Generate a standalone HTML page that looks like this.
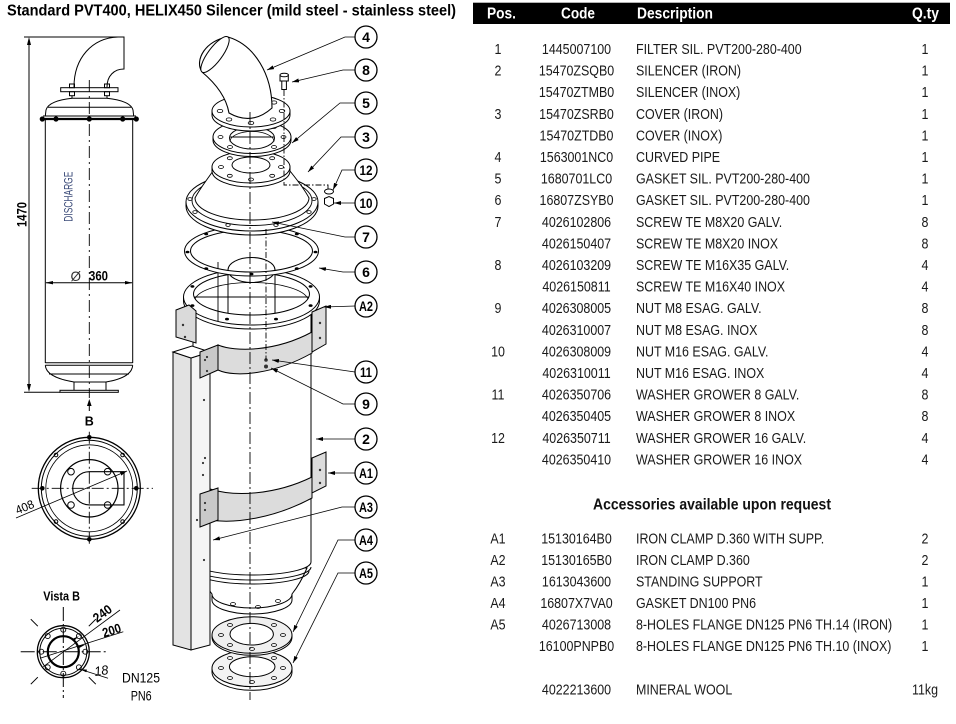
<!DOCTYPE html>
<html><head><meta charset="utf-8"><style>
html,body{margin:0;padding:0;background:#fff;}
svg{display:block;font-family:"Liberation Sans",Arial,sans-serif;}
</style></head><body>
<svg width="956" height="724" viewBox="0 0 956 724" xmlns="http://www.w3.org/2000/svg">
<defs>
<marker id="ar" markerUnits="userSpaceOnUse" markerWidth="7" markerHeight="4" refX="7" refY="2" orient="auto"><path d="M0,0 L7,2 L0,4 z" fill="#000"/></marker>
</defs>
<rect width="956" height="724" fill="#fff"/>

<!-- Title -->
<text x="7" y="15.7" font-size="16" font-weight="bold" textLength="449" lengthAdjust="spacingAndGlyphs">Standard PVT400, HELIX450 Silencer (mild steel - stainless steel)</text>

<!-- Table header -->
<rect x="473" y="2.7" width="477" height="21.3" fill="#000"/>
<g fill="#fff" font-size="16" font-weight="bold">
<text x="487" y="18.5" textLength="29" lengthAdjust="spacingAndGlyphs">Pos.</text>
<text x="561" y="18.5" textLength="34" lengthAdjust="spacingAndGlyphs">Code</text>
<text x="637" y="18.5" textLength="76" lengthAdjust="spacingAndGlyphs">Description</text>
<text x="912" y="18.5" textLength="27" lengthAdjust="spacingAndGlyphs">Q.ty</text>
</g>

<!-- Table body -->
<g fill="#1a1a1a" font-size="15">
<g transform="translate(498,0) scale(0.83,1)" text-anchor="middle">
<text x="0" y="54">1</text><text x="0" y="75.6">2</text><text x="0" y="118.8">3</text><text x="0" y="162">4</text>
<text x="0" y="183.6">5</text><text x="0" y="205.2">6</text><text x="0" y="226.8">7</text><text x="0" y="270">8</text>
<text x="0" y="313.2">9</text><text x="0" y="356.4">10</text><text x="0" y="399.6">11</text><text x="0" y="442.8">12</text>
<text x="0" y="543.3">A1</text><text x="0" y="565">A2</text><text x="0" y="586.5">A3</text><text x="0" y="608">A4</text><text x="0" y="629.6">A5</text>
</g>
<g transform="translate(576.5,0) scale(0.83,1)" text-anchor="middle">
<text x="0" y="54">1445007100</text><text x="0" y="75.6">15470ZSQB0</text><text x="0" y="97.2">15470ZTMB0</text>
<text x="0" y="118.8">15470ZSRB0</text><text x="0" y="140.4">15470ZTDB0</text><text x="0" y="162">1563001NC0</text>
<text x="0" y="183.6">1680701LC0</text><text x="0" y="205.2">16807ZSYB0</text><text x="0" y="226.8">4026102806</text>
<text x="0" y="248.4">4026150407</text><text x="0" y="270">4026103209</text><text x="0" y="291.6">4026150811</text>
<text x="0" y="313.2">4026308005</text><text x="0" y="334.8">4026310007</text><text x="0" y="356.4">4026308009</text>
<text x="0" y="378">4026310011</text><text x="0" y="399.6">4026350706</text><text x="0" y="421.2">4026350405</text>
<text x="0" y="442.8">4026350711</text><text x="0" y="464.4">4026350410</text>
<text x="0" y="543.3">15130164B0</text><text x="0" y="565">15130165B0</text><text x="0" y="586.5">1613043600</text>
<text x="0" y="608">16807X7VA0</text><text x="0" y="629.6">4026713008</text><text x="0" y="651.2">16100PNPB0</text>
<text x="0" y="694.4">4022213600</text>
</g>
<g transform="translate(636,0) scale(0.83,1)">
<text x="0" y="54">FILTER SIL. PVT200-280-400</text><text x="0" y="75.6">SILENCER (IRON)</text><text x="0" y="97.2">SILENCER (INOX)</text>
<text x="0" y="118.8">COVER (IRON)</text><text x="0" y="140.4">COVER (INOX)</text><text x="0" y="162">CURVED PIPE</text>
<text x="0" y="183.6">GASKET SIL. PVT200-280-400</text><text x="0" y="205.2">GASKET SIL. PVT200-280-400</text><text x="0" y="226.8">SCREW TE M8X20 GALV.</text>
<text x="0" y="248.4">SCREW TE M8X20 INOX</text><text x="0" y="270">SCREW TE M16X35 GALV.</text><text x="0" y="291.6">SCREW TE M16X40 INOX</text>
<text x="0" y="313.2">NUT M8 ESAG. GALV.</text><text x="0" y="334.8">NUT M8 ESAG. INOX</text><text x="0" y="356.4">NUT M16 ESAG. GALV.</text>
<text x="0" y="378">NUT M16 ESAG. INOX</text><text x="0" y="399.6">WASHER GROWER 8 GALV.</text><text x="0" y="421.2">WASHER GROWER 8 INOX</text>
<text x="0" y="442.8">WASHER GROWER 16 GALV.</text><text x="0" y="464.4">WASHER GROWER 16 INOX</text>
<text x="0" y="543.3">IRON CLAMP D.360 WITH SUPP.</text><text x="0" y="565">IRON CLAMP D.360</text><text x="0" y="586.5">STANDING SUPPORT</text>
<text x="0" y="608">GASKET DN100 PN6</text><text x="0" y="629.6">8-HOLES FLANGE DN125 PN6 TH.14 (IRON)</text><text x="0" y="651.2">8-HOLES FLANGE DN125 PN6 TH.10 (INOX)</text>
<text x="0" y="694.4">MINERAL WOOL</text>
</g>
<g transform="translate(925,0) scale(0.83,1)" text-anchor="middle">
<text x="0" y="54">1</text><text x="0" y="75.6">1</text><text x="0" y="97.2">1</text><text x="0" y="118.8">1</text><text x="0" y="140.4">1</text>
<text x="0" y="162">1</text><text x="0" y="183.6">1</text><text x="0" y="205.2">1</text><text x="0" y="226.8">8</text><text x="0" y="248.4">8</text>
<text x="0" y="270">4</text><text x="0" y="291.6">4</text><text x="0" y="313.2">8</text><text x="0" y="334.8">8</text><text x="0" y="356.4">4</text>
<text x="0" y="378">4</text><text x="0" y="399.6">8</text><text x="0" y="421.2">8</text><text x="0" y="442.8">4</text><text x="0" y="464.4">4</text>
<text x="0" y="543.3">2</text><text x="0" y="565">2</text><text x="0" y="586.5">1</text><text x="0" y="608">1</text><text x="0" y="629.6">1</text>
<text x="0" y="651.2">1</text><text x="0" y="694.4">11kg</text>
</g>
</g>
<text x="593" y="509.3" font-size="16" font-weight="bold" fill="#111" textLength="238" lengthAdjust="spacingAndGlyphs">Accessories available upon request</text>

<!-- ============ LEFT ELEVATION ============ -->
<g fill="none" stroke="#000" stroke-width="1">
<line x1="24" y1="37" x2="124" y2="37"/>
<line x1="29" y1="44" x2="29" y2="385"/>
<line x1="24" y1="392.3" x2="60" y2="392.3"/>
<path d="M74,87 C74,58 92,38 118,37 L124,37 L124,69 C114,69 107,76 107,87"/>
<rect x="60.7" y="87.7" width="57.3" height="4"/>
<rect x="69.5" y="84" width="5" height="3.7"/>
<rect x="69.5" y="91.7" width="5" height="4"/>
<rect x="104.5" y="84" width="5" height="3.7"/>
<rect x="104.5" y="91.7" width="5" height="4"/>
<path d="M72,95.7 L72,98.3 L107,98.3 L107,95.7"/>
<path d="M72,98.3 C58,100 48,103 46,110 L45.3,116 M107,98.3 C121,100 131,103 133,110 L133.7,116"/>
<line x1="48" y1="107.3" x2="131" y2="107.3"/>
<line x1="43" y1="116" x2="136" y2="116"/>
<line x1="42" y1="119" x2="137" y2="119" stroke-width="2.3"/>
<line x1="45.3" y1="119" x2="45.3" y2="363"/>
<line x1="132.7" y1="119" x2="132.7" y2="363"/>
<line x1="45.3" y1="362.7" x2="132.7" y2="362.7"/>
<line x1="45.3" y1="365.3" x2="132.7" y2="365.3"/>
<path d="M45.3,365.3 C46,376 62,380 74,382 L106,382 C118,380 132,376 132.7,365.3"/>
<line x1="49" y1="374" x2="129" y2="374"/>
<line x1="74" y1="382" x2="74" y2="390.3"/>
<line x1="106" y1="382" x2="106" y2="390.3"/>
<rect x="60" y="390.3" width="58.3" height="2"/>
<line x1="89.3" y1="80" x2="89.3" y2="398" stroke-width="0.9" stroke-dasharray="12 4 2 4"/>
<line x1="46" y1="282.7" x2="132" y2="282.7"/>
<line x1="89.3" y1="405" x2="89.3" y2="411"/>
</g>
<g fill="#000">
<circle cx="42.3" cy="119" r="2.6"/><circle cx="56" cy="119" r="2.6"/><circle cx="89.3" cy="119" r="2.6"/><circle cx="122.7" cy="119" r="2.6"/><circle cx="136.3" cy="119" r="2.6"/>
<polygon points="29,37 27,45 31,45"/>
<polygon points="29,392 27,384 31,384"/>
<polygon points="45.3,282.7 53,281 53,284.4"/>
<polygon points="132.7,282.7 125,281 125,284.4"/>
<polygon points="89.3,399 87,406 91.6,406"/>
</g>
<text transform="translate(26.5,227) rotate(-90)" font-size="14" font-weight="bold" textLength="25" lengthAdjust="spacingAndGlyphs">1470</text>
<text transform="translate(72.7,221.7) rotate(-90)" font-size="11.5" fill="#3a4a78" textLength="50" lengthAdjust="spacingAndGlyphs">DISCHARGE</text>
<text x="70.5" y="281" font-size="14" fill="#333" textLength="10.5" lengthAdjust="spacingAndGlyphs">Ø</text>
<text x="89" y="280.5" font-size="14" font-weight="bold" textLength="19" lengthAdjust="spacingAndGlyphs">360</text>
<text x="89.3" y="425.5" font-size="12.5" font-weight="bold" text-anchor="middle">B</text>

<!-- ============ BOTTOM VIEW ============ -->
<g fill="none" stroke="#000" stroke-width="1">
<circle cx="89.3" cy="488.3" r="51" stroke-width="1.3"/>
<circle cx="89.3" cy="488.3" r="48"/>
<circle cx="89.3" cy="488.3" r="43.5" stroke-width="0.8"/>
<circle cx="89.3" cy="488.3" r="28.7" stroke-width="1.2"/>
<path d="M89.3,471.7 A16.6,16.6 0 0 0 89.3,504.9 L124,504.9 L124,471.7 Z" stroke-width="1.1"/>
<circle cx="71" cy="471.7" r="3.3"/><circle cx="107.6" cy="471.7" r="3.3"/><circle cx="71" cy="505" r="3.3"/><circle cx="107.6" cy="505" r="3.3"/>
<circle cx="56" cy="455" r="1.8"/><circle cx="122.6" cy="455" r="1.8"/><circle cx="56" cy="521.6" r="1.8"/><circle cx="122.6" cy="521.6" r="1.8"/>
<line x1="31.7" y1="488.3" x2="153" y2="488.3" stroke-width="0.9" stroke-dasharray="12 3 2 3"/>
<line x1="89.3" y1="431.7" x2="89.3" y2="545" stroke-width="0.9" stroke-dasharray="12 3 2 3"/>
<line x1="16" y1="518" x2="127" y2="471" stroke-width="0.8" marker-end="url(#ar)"/>
</g>
<g fill="#000">
<circle cx="89.3" cy="437.3" r="2.3"/><circle cx="89.3" cy="539.3" r="2.3"/><circle cx="42.3" cy="488.3" r="2.3"/><circle cx="136.3" cy="488.3" r="2.3"/>
</g>
<text transform="translate(17.5,514.5) rotate(-22.5)" font-size="12" textLength="19" lengthAdjust="spacingAndGlyphs">408</text>

<!-- ============ VISTA B ============ -->
<text x="43.3" y="600.7" font-size="13" font-weight="bold" textLength="36.7" lengthAdjust="spacingAndGlyphs">Vista B</text>
<g fill="none" stroke="#000" stroke-width="1">
<circle cx="63.3" cy="651.7" r="26" stroke-width="1.3"/>
<circle cx="63.3" cy="651.7" r="23.5"/>
<circle cx="63.3" cy="651.7" r="15.5" stroke-width="2.2"/>
<line x1="63.3" y1="607" x2="63.3" y2="698" stroke-dasharray="14 3 2 3"/>
<line x1="20.7" y1="651.7" x2="108.3" y2="651.7" stroke-dasharray="14 3 2 3"/>
<line x1="88.8" y1="677.2" x2="95.8" y2="684.2"/><line x1="37.8" y1="677.2" x2="30.8" y2="684.2"/>
<line x1="37.8" y1="626.2" x2="30.8" y2="619.2"/><line x1="88.8" y1="626.2" x2="95.8" y2="619.2"/>
<g stroke-width="0.9">
<circle cx="85.3" cy="651.7" r="2.5"/><circle cx="78.9" cy="667.3" r="2.5"/><circle cx="63.3" cy="673.7" r="2.5"/><circle cx="47.7" cy="667.3" r="2.5"/>
<circle cx="41.3" cy="651.7" r="2.5"/><circle cx="47.7" cy="636.1" r="2.5"/><circle cx="63.3" cy="629.7" r="2.5"/><circle cx="78.9" cy="636.1" r="2.5"/>
</g>
<line x1="43.3" y1="666.7" x2="120" y2="610" stroke-width="0.8"/>
<line x1="40" y1="658.3" x2="123.3" y2="631.7" stroke-width="0.8"/>
<line x1="80" y1="669.3" x2="108" y2="678.3" stroke-width="0.8"/>
</g>
<g fill="#000">
<polygon points="78.9,636.1 72,639 73.5,641.5"/>
<polygon points="85.3,644.6 78,645.5 78.8,648.2"/>
<polygon points="80,669.3 87,669.6 86.2,672.3"/>
</g>
<text transform="translate(97,623) rotate(-36.5)" font-size="13" font-weight="bold" textLength="20" lengthAdjust="spacingAndGlyphs">240</text>
<text transform="translate(104,637.5) rotate(-17.7)" font-size="13" font-weight="bold" textLength="19" lengthAdjust="spacingAndGlyphs">200</text>
<text transform="translate(95,676) rotate(-8)" font-size="13" font-style="italic" textLength="14" lengthAdjust="spacingAndGlyphs">18</text>
<text x="122" y="682.7" font-size="14" textLength="38" lengthAdjust="spacingAndGlyphs">DN125</text>
<text x="130.7" y="700.7" font-size="14" textLength="21" lengthAdjust="spacingAndGlyphs">PN6</text>

<!-- ============ EXPLODED VIEW ============ -->
<g stroke="#000" stroke-width="1" fill="#fff">
<!-- A5 flange -->
<path d="M212,668.3 L212,672 A40,18.3 0 0 0 292,672 L292,668.3 Z"/>
<ellipse cx="252" cy="668.3" rx="40" ry="18.3" fill="#f3f3f3"/>
<ellipse cx="252.2" cy="666.7" rx="22.8" ry="10"/>
<g fill="none" stroke-width="0.8">
<ellipse cx="283" cy="668" rx="2.5" ry="1.5"/><ellipse cx="274" cy="678" rx="2.5" ry="1.5"/><ellipse cx="252" cy="682" rx="2.5" ry="1.5"/><ellipse cx="230" cy="678" rx="2.5" ry="1.5"/>
<ellipse cx="221" cy="668" rx="2.5" ry="1.5"/><ellipse cx="230" cy="658" rx="2.5" ry="1.5"/><ellipse cx="274" cy="658" rx="2.5" ry="1.5"/>
</g>
<!-- A4 gasket -->
<path d="M212,635 L212,637 A40,18.3 0 0 0 292,637 L292,635 Z"/>
<ellipse cx="252" cy="635" rx="40" ry="18.3" fill="#efefef"/>
<ellipse cx="251.7" cy="634.2" rx="21.7" ry="10.8"/>
<g fill="none" stroke-width="0.8">
<ellipse cx="283" cy="635" rx="2.5" ry="1.5"/><ellipse cx="274" cy="645" rx="2.5" ry="1.5"/><ellipse cx="252" cy="649" rx="2.5" ry="1.5"/><ellipse cx="230" cy="645" rx="2.5" ry="1.5"/>
<ellipse cx="221" cy="635" rx="2.5" ry="1.5"/><ellipse cx="230" cy="625" rx="2.5" ry="1.5"/><ellipse cx="274" cy="625" rx="2.5" ry="1.5"/>
</g>

<!-- body bottom taper + neck flange -->
<path d="M197,568 C203,582 208,589 212,594 L212,600 A40,14 0 0 0 292,600 L292,594 C296,589 301,582 307,568 Z"/>
<path d="M212,594 A40,14 0 0 0 292,594" fill="none"/>
<g fill="none" stroke-width="0.8">
<ellipse cx="233" cy="604" rx="2.5" ry="1.5"/><ellipse cx="258" cy="607" rx="2.5" ry="1.5"/><ellipse cx="278" cy="601" rx="2.5" ry="1.5"/>
</g>
<!-- body -->
<path d="M193,300 L193,562 A59,13 0 0 0 311,562 L311,300 Z"/>
<path d="M193,567 A59,13 0 0 0 311,567" fill="none"/>
<path d="M195,571 A57,13 0 0 0 309,571" fill="none"/>

<!-- ring 6 (silencer top flange) -->
<path d="M183.5,297 L183.5,301 A68,28 0 0 0 319.5,301 L319.5,297 Z"/>
<path fill-rule="evenodd" d="M183.5,297 A68,28 0 1 0 319.5,297 A68,28 0 1 0 183.5,297 Z M193.5,294 A58,21 0 1 0 309.5,294 A58,21 0 1 0 193.5,294 Z"/>
<path d="M195,299 A57,19 0 0 1 308,299" fill="none" stroke-width="0.8"/>
<line x1="218" y1="262" x2="218" y2="321" stroke-width="0.9"/>
<line x1="228" y1="270" x2="228" y2="313"/>
<line x1="275" y1="270" x2="275" y2="313"/>
<ellipse cx="251.5" cy="270" rx="23.5" ry="12.5"/>
<g fill="#000" stroke="none">
<ellipse cx="310.6" cy="305.6" rx="2" ry="1.3"/><ellipse cx="276" cy="319.1" rx="2" ry="1.3"/><ellipse cx="227" cy="319.1" rx="2" ry="1.3"/><ellipse cx="192.4" cy="305.6" rx="2" ry="1.3"/>
<ellipse cx="192.4" cy="286.4" rx="2" ry="1.3"/><ellipse cx="310.6" cy="286.4" rx="2" ry="1.3"/>
</g>

<!-- ring 7 gasket -->
<path fill-rule="evenodd" d="M184.5,251 A67,25 0 1 0 318.5,251 A67,25 0 1 0 184.5,251 Z M190.5,251 A61,21 0 1 0 312.5,251 A61,21 0 1 0 190.5,251 Z"/>
<g fill="#000" stroke="none">
<ellipse cx="315.5" cy="252" rx="2" ry="1.3"/><ellipse cx="296.8" cy="268.6" rx="2" ry="1.3"/><ellipse cx="251.5" cy="274" rx="2" ry="1.3"/><ellipse cx="206.2" cy="268.6" rx="2" ry="1.3"/>
<ellipse cx="187.5" cy="252" rx="2" ry="1.3"/><ellipse cx="206.2" cy="234" rx="2" ry="1.3"/><ellipse cx="296.8" cy="234" rx="2" ry="1.3"/>
</g>

<!-- screw 7 -->
<rect x="265" y="221" width="4" height="8"/>
<rect x="263.5" y="216.5" width="7" height="5"/>
<ellipse cx="267" cy="216.5" rx="3.5" ry="1.8"/>

<!-- cover 3 -->
<path d="M186,202 L186,206 A66,29 0 0 0 318,206 L318,202 Z"/>
<ellipse cx="252" cy="202" rx="66" ry="29"/>
<ellipse cx="252" cy="200.5" rx="60" ry="25" fill="none" stroke-width="0.9"/>
<path d="M213,171 C206,181 199,190 195,198 A57,22 0 0 0 309,198 C305,190 298,181 290,171 Z"/>
<g fill="none" stroke-width="0.8">
<ellipse cx="309" cy="212" rx="2.2" ry="1.4"/><ellipse cx="276" cy="225" rx="2.2" ry="1.4"/><ellipse cx="228" cy="225" rx="2.2" ry="1.4"/><ellipse cx="195" cy="212" rx="2.2" ry="1.4"/>
<ellipse cx="190" cy="199" rx="2.2" ry="1.4"/><ellipse cx="314" cy="199" rx="2.2" ry="1.4"/>
</g>
<path d="M212,167 L212,171 A39,16 0 0 0 290,171 L290,167 Z"/>
<ellipse cx="251" cy="167" rx="39" ry="16"/>
<ellipse cx="251" cy="165" rx="19" ry="8" fill="none"/>
<g fill="none" stroke-width="0.8">
<ellipse cx="281" cy="167" rx="2.5" ry="1.5"/><ellipse cx="272.2" cy="175.8" rx="2.5" ry="1.5"/><ellipse cx="251" cy="179.5" rx="2.5" ry="1.5"/><ellipse cx="229.8" cy="175.8" rx="2.5" ry="1.5"/>
<ellipse cx="221" cy="167" rx="2.5" ry="1.5"/><ellipse cx="229.8" cy="158.2" rx="2.5" ry="1.5"/><ellipse cx="272.2" cy="158.2" rx="2.5" ry="1.5"/>
</g>

<!-- gasket 5 -->
<path d="M213,137 L213,140 A39,16.5 0 0 0 291,140 L291,137 Z"/>
<path fill-rule="evenodd" d="M213,137 A39,16.5 0 1 0 291,137 A39,16.5 0 1 0 213,137 Z M229.5,138 A22.5,11 0 1 0 274.5,138 A22.5,11 0 1 0 229.5,138 Z"/>
<path d="M230,141.5 A22,10 0 0 1 274,141.5" fill="none" stroke-width="0.8"/>
<g fill="none" stroke-width="0.8">
<ellipse cx="283.5" cy="137" rx="2.5" ry="1.5"/><ellipse cx="274" cy="147" rx="2.5" ry="1.5"/><ellipse cx="230" cy="147" rx="2.5" ry="1.5"/>
<ellipse cx="220.5" cy="137" rx="2.5" ry="1.5"/><ellipse cx="230" cy="127" rx="2.5" ry="1.5"/><ellipse cx="274" cy="127" rx="2.5" ry="1.5"/>
</g>

<!-- pipe flange -->
<path d="M212,111 L212,115 A39,16 0 0 0 290,115 L290,111 Z"/>
<ellipse cx="251" cy="111" rx="39" ry="16"/>
<g fill="none" stroke-width="0.8">
<ellipse cx="282" cy="111" rx="2.8" ry="1.6"/><ellipse cx="273" cy="119.5" rx="2.8" ry="1.6"/><ellipse cx="251" cy="123" rx="2.8" ry="1.6"/>
<ellipse cx="229" cy="119.5" rx="2.8" ry="1.6"/><ellipse cx="220" cy="111" rx="2.8" ry="1.6"/><ellipse cx="274" cy="102.5" rx="2.8" ry="1.6"/>
</g>
<!-- curved pipe 4 -->
<path d="M229,113 C226,96 214,82 202,72 C194,60 206,40 228,37 C255,45 272,75 272,108 Q252,126 229,113 Z" stroke-width="1.1"/>
<ellipse cx="215" cy="54.5" rx="21.8" ry="7" transform="rotate(-53.4 215 54.5)"/>

<!-- screw 8, washer 12, nut 10 -->
<rect x="281.8" y="80" width="4.6" height="9.5"/>
<rect x="280" y="75" width="8.3" height="6"/>
<ellipse cx="284.2" cy="75" rx="4.2" ry="1.8"/>
<ellipse cx="329" cy="191.5" rx="4.5" ry="2.5"/>
<polygon points="324.5,198.5 329,196.5 333.5,198.5 333.5,204 329,206.5 324.5,204"/>

<!-- standing support A3 column -->
<polygon points="173,352 191,358 191,650 173,645" fill="#e3e3e3"/>
<polygon points="191,358 210,352 210,645 191,650" fill="#f5f5f5"/>
<polygon points="173,352 192,346 210,352 191,358"/>

<!-- clamp A2 -->
<polygon points="176,310 189,305 196,311 196,343 176,337" fill="#dadada"/>
<path d="M218,345 C235,352 275,352 312,332 L312,353 C275,374 235,378 218,370 Z" fill="#dcdcdc"/>
<polygon points="200,352 218,345 218,370 200,378" fill="#c9c9c9"/>
<polygon points="312,312 326,306 326,344 312,352" fill="#dcdcdc"/>

<!-- clamp A1 -->
<polygon points="312,458 326,452 326,486 312,493" fill="#dcdcdc"/>
<path d="M210,489 C235,497 275,495 312,477 L312,498 C275,518 235,524 210,520 Z" fill="#dcdcdc"/>
<polygon points="200,494 218,488 218,520 200,527" fill="#c9c9c9"/>
</g>

<!-- small holes / bolts -->
<g fill="#333">
<circle cx="183" cy="325" r="1.2"/><circle cx="185" cy="337" r="1.2"/>
<circle cx="320" cy="323" r="1.2"/><circle cx="320" cy="338" r="1.2"/>
<circle cx="320" cy="470" r="1.2"/><circle cx="320" cy="483" r="1.2"/>
<circle cx="207" cy="357" r="1.1"/><circle cx="207" cy="371" r="1.1"/>
<circle cx="205" cy="360" r="1.1"/><circle cx="205" cy="458" r="1.1"/>
<circle cx="203" cy="463" r="1.1"/><circle cx="203" cy="475" r="1.1"/>
<circle cx="205" cy="503" r="1.1"/><circle cx="205" cy="510" r="1.1"/><circle cx="197" cy="520" r="1.1"/>
<circle cx="204" cy="400" r="1.1"/><circle cx="204" cy="560" r="1.1"/>
<circle cx="266" cy="360" r="1.8"/><circle cx="266" cy="366.5" r="2"/>
</g>

<!-- axes -->
<g fill="none" stroke="#000" stroke-width="0.9">
<line x1="250" y1="112" x2="250" y2="700" stroke-dasharray="12 3 2 3"/>
<line x1="266" y1="229" x2="266" y2="360" stroke-dasharray="6 2 1.5 2"/>
<path d="M284,90 L284,185 L328,185 L328,189" stroke-dasharray="6 2 1.5 2"/>
</g>

<!-- leaders -->
<g fill="none" stroke="#000" stroke-width="0.8" marker-end="url(#ar)">
<polyline points="355,37 345,37 267,70"/>
<polyline points="355,70 343,70 292,82"/>
<polyline points="355,103 340,103 292,143"/>
<polyline points="355,137 341,137 308,172"/>
<polyline points="355,170 342,170 333,190"/>
<polyline points="355,203 334,203"/>
<polyline points="355,237 345,237 272,222"/>
<polyline points="355,272 343,272 319,268"/>
<polyline points="355,306 324,307"/>
<polyline points="355,372 272,360"/>
<polyline points="355,404 343,404 271,368"/>
<polyline points="355,439 316,439"/>
<polyline points="355,473 328,473"/>
<polyline points="355,507 342,507 213,540"/>
<polyline points="355,540 338,540 293,632"/>
<polyline points="355,573 338,573 293,663"/>
</g>

<!-- bubbles -->
<g fill="#fff" stroke="#000" stroke-width="1.3">
<circle cx="366" cy="37" r="11"/><circle cx="366" cy="70" r="11"/><circle cx="366" cy="103" r="11"/><circle cx="366" cy="137" r="11"/>
<circle cx="366" cy="170" r="11"/><circle cx="366" cy="203" r="11"/><circle cx="366" cy="237" r="11"/><circle cx="366" cy="272" r="11"/>
<circle cx="366" cy="306" r="11"/><circle cx="366" cy="372" r="11"/><circle cx="366" cy="404" r="11"/><circle cx="366" cy="439" r="11"/>
<circle cx="366" cy="473" r="11"/><circle cx="366" cy="507" r="11"/><circle cx="366" cy="540" r="11"/><circle cx="366" cy="573" r="11"/>
</g>
<g font-size="14" font-weight="bold" text-anchor="middle" fill="#000">
<text x="366" y="42">4</text><text x="366" y="75">8</text><text x="366" y="108">5</text><text x="366" y="142">3</text>
<text x="366" y="175" textLength="13" lengthAdjust="spacingAndGlyphs">12</text>
<text x="366" y="208" textLength="13" lengthAdjust="spacingAndGlyphs">10</text>
<text x="366" y="242">7</text><text x="366" y="277">6</text>
<text x="366" y="311" textLength="14" lengthAdjust="spacingAndGlyphs">A2</text>
<text x="366" y="377" textLength="12" lengthAdjust="spacingAndGlyphs">11</text>
<text x="366" y="409">9</text><text x="366" y="444">2</text>
<text x="366" y="478" textLength="14" lengthAdjust="spacingAndGlyphs">A1</text>
<text x="366" y="512" textLength="14" lengthAdjust="spacingAndGlyphs">A3</text>
<text x="366" y="545" textLength="14" lengthAdjust="spacingAndGlyphs">A4</text>
<text x="366" y="578" textLength="14" lengthAdjust="spacingAndGlyphs">A5</text>
</g>
</svg>
</body></html>
